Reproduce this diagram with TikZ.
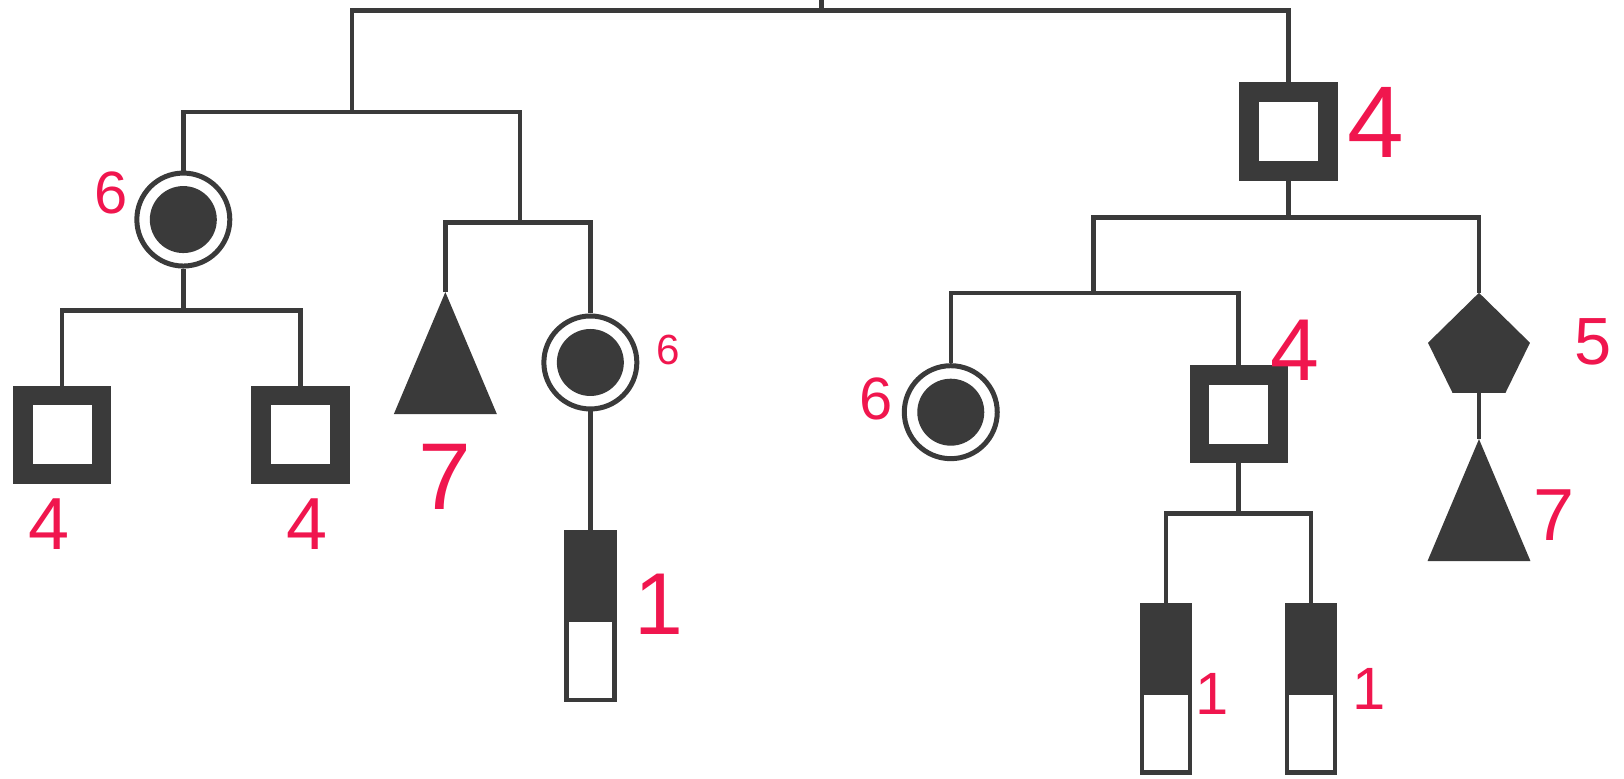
\documentclass[tikz,border=0pt]{standalone}
\usepackage{fontspec}
\setmainfont{Liberation Sans}
\usetikzlibrary{shapes.geometric}
\definecolor{inkgray}{RGB}{58,58,58}
\definecolor{penred}{RGB}{240,22,78}

\begin{document}
\begin{tikzpicture}[%
    x=0.010357cm,
    y=-0.010357cm,
    color=inkgray,
    line width=0.045cm,
    thicksq/.style={%
      rectangle,
      draw,
      fill=white,
      line width=0.197cm,
      minimum size=0.787cm,
      inner sep=0pt
    },
    ringcirc/.style={%
      circle,
      draw,
      fill=white,
      line width=0.05cm,
      minimum size=0.93cm,
      inner sep=0pt,
      path picture={\fill[inkgray] (path picture bounding box.center) circle (0.335cm);}
    },
    filltri/.style={%
      isosceles triangle,
      isosceles triangle stretches,
      shape border rotate=90,
      fill=inkgray,
      minimum width=1.03cm,
      minimum height=1.22cm,
      inner sep=0pt,
      outer sep=0pt
    },
    pentnode/.style={%
      rectangle,
      minimum width=1.02cm,
      minimum height=1.0cm,
      inner sep=0pt,
      outer sep=0pt,
      path picture={\fill[inkgray] (path picture bounding box.north)
        -- (path picture bounding box.east)
        -- ([xshift=-0.245cm]path picture bounding box.south east)
        -- ([xshift=0.245cm]path picture bounding box.south west)
        -- (path picture bounding box.west) -- cycle;}
    },
    halfbar/.style={%
      rectangle,
      draw,
      fill=white,
      minimum width=0.48cm,
      minimum height=1.68cm,
      inner sep=0pt,
      path picture={\fill[inkgray] (path picture bounding box.north west) rectangle ([yshift=-0.9cm]path picture bounding box.north east);}
    },
    numlbl/.style={%
      text=penred,
      inner sep=0pt,
      font=\fontsize{#1pt}{#1pt}\selectfont
    }
  ]
    \useasboundingbox (0,0) rectangle (1568,751.2);

    % people
    \node[ringcirc] (cA)  at (177,212) {};
    \node[thicksq]  (sqA1) at (60,420)  {};
    \node[thicksq]  (sqA2) at (290,420) {};
    \node[filltri, anchor=apex] (triA) at (430,282) {};
    \node[ringcirc] (cB)  at (570,350) {};
    \node[halfbar]  (barA) at (570,595) {};

    \node[thicksq]  (sqB) at (1244,127) {};
    \node[ringcirc] (cC)  at (918,398)  {};
    \node[thicksq]  (sqC) at (1196,400) {};
    \node[pentnode] (pent) at (1428,331) {};
    \node[filltri, anchor=apex] (triB) at (1428,424) {};
    \node[halfbar]  (barB) at (1126,665) {};
    \node[halfbar]  (barC) at (1266,665) {};

    % junctions
    \coordinate (root)    at (793,0);
    \coordinate (rootbar) at (793,10);
    \coordinate (famL)    at (340,108);
    \coordinate (famLL)   at (177,300);
    \coordinate (famLR)   at (502,215);
    \coordinate (famR)    at (1244,210);
    \coordinate (famRL)   at (1056,283);
    \coordinate (famRC)   at (1196,496);

    \draw (root) -- (rootbar);
    \draw (famL) |- (rootbar) -| (sqB);
    \draw (cA) |- (famL) -| (famLR);
    \draw (cA) -- (famLL);
    \draw (sqA1) |- (famLL) -| (sqA2);
    \draw (triA.apex) |- (famLR) -| (cB);
    \draw (cB) -- (barA);
    \draw (sqB) -- (famR);
    \draw (famRL) |- (famR) -| (pent);
    \draw (cC) |- (famRL) -| (sqC);
    \draw (sqC) -- (famRC);
    \draw (barB) |- (famRC) -| (barC);
    \draw (pent) -- (triB.apex);

    % counts
    \node[numlbl=17] (nA)   at (107,186)  {6};
    \node[numlbl=21] (nA1)  at (47,506)   {4};
    \node[numlbl=21] (nA2)  at (296,506)  {4};
    \node[numlbl=27] (nTA)  at (430,460)  {7};
    \node[numlbl=12] (nB)   at (645,338)  {6};
    \node[numlbl=25] (nBA)  at (636,583)  {1};
    \node[numlbl=29] (nSB)  at (1328,118) {4};
    \node[numlbl=17] (nC)   at (846,385)  {6};
    \node[numlbl=25] (nSC)  at (1250,338) {4};
    \node[numlbl=19] (nP)   at (1538,330) {5};
    \node[numlbl=21] (nTB)  at (1500,497) {7};
    \node[numlbl=17] (nBB)  at (1170,670) {1};
    \node[numlbl=17] (nBC)  at (1322,665) {1};
  \end{tikzpicture}
\end{document}
